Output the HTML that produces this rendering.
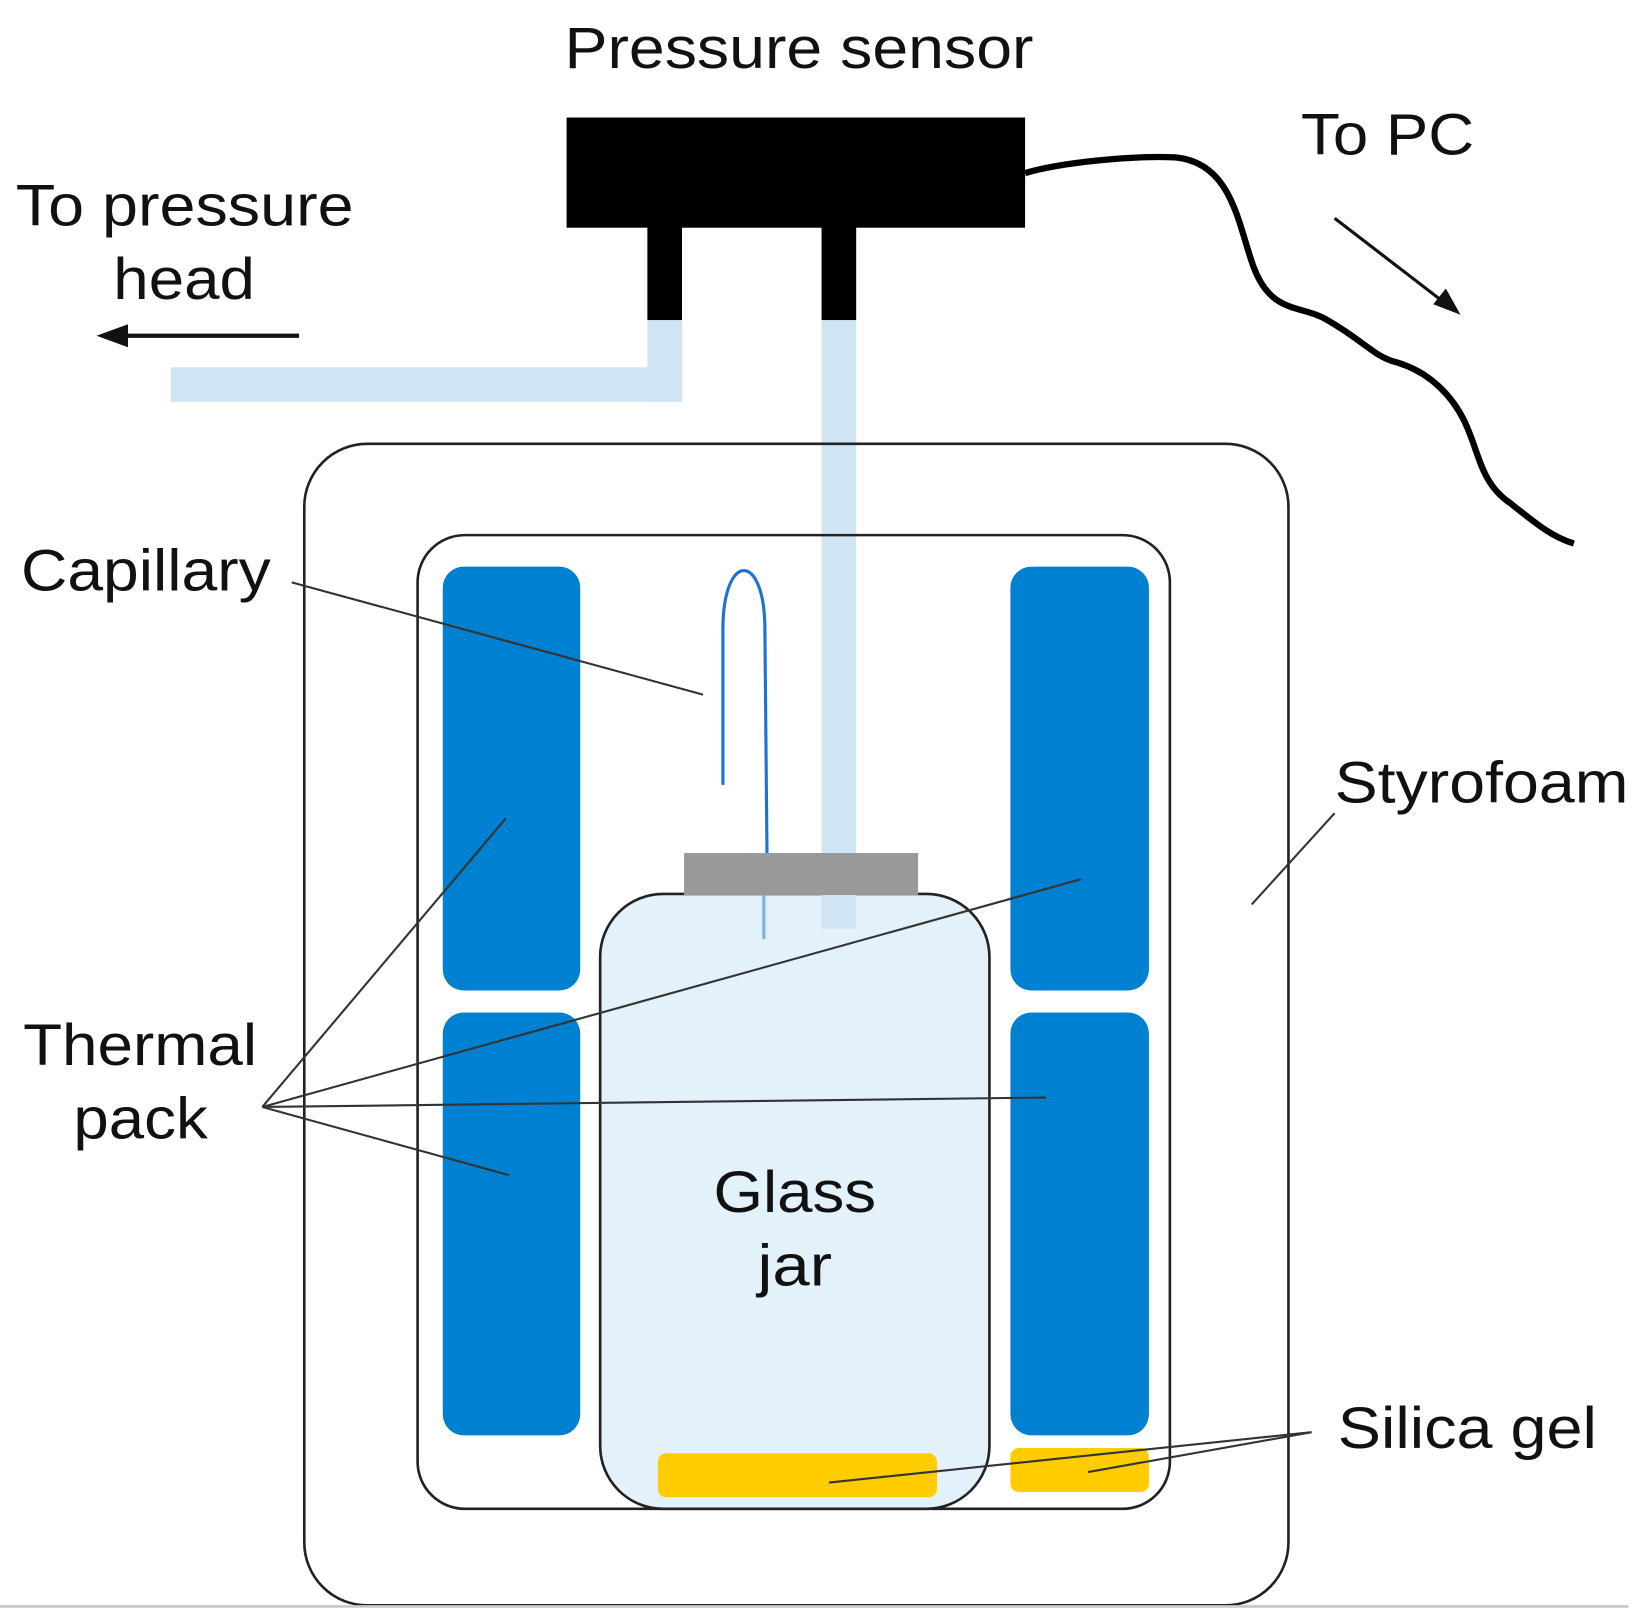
<!DOCTYPE html>
<html><head><style>html,body{margin:0;padding:0;background:#fff}svg{display:block}</style></head>
<body>
<svg width="1641" height="1619" viewBox="0 0 1564 1543" xmlns="http://www.w3.org/2000/svg" font-family="Liberation Sans, Arial, sans-serif" font-size="56" fill="#111">
<rect width="1564" height="1543" fill="#fff"/>
<text x="538" y="65" textLength="447" lengthAdjust="spacingAndGlyphs">Pressure sensor</text>
<text x="15" y="215" textLength="322" lengthAdjust="spacingAndGlyphs">To pressure</text>
<text x="108" y="285" textLength="135" lengthAdjust="spacingAndGlyphs">head</text>
<text x="1240" y="147" textLength="165" lengthAdjust="spacingAndGlyphs">To PC</text>
<rect x="163" y="350" width="487" height="33" fill="#cfe5f3"/>
<rect x="617" y="300" width="33" height="83" fill="#cfe5f3"/>
<rect x="783" y="300" width="33" height="585" fill="#cfe5f3"/>
<rect x="540" y="112" width="437" height="105" fill="#000"/>
<rect x="617" y="215" width="33" height="90" fill="#000"/>
<rect x="783" y="215" width="33" height="90" fill="#000"/>
<line x1="285" y1="320" x2="108" y2="320" stroke="#111" stroke-width="4"/>
<polygon points="92,320 122,309 122,331" fill="#111"/>
<line x1="1272" y1="208" x2="1380" y2="291" stroke="#111" stroke-width="3"/>
<polygon points="1392,300 1366,290 1378,275" fill="#111"/>
<path d="M977,165 C1010,155 1080,148 1120,150 C1175,155 1180,215 1195,255 C1212,300 1240,290 1265,305 C1300,325 1310,340 1330,345 C1365,355 1385,380 1395,400 C1410,430 1410,460 1440,480 C1465,500 1480,512 1500,518" fill="none" stroke="#000" stroke-width="6"/>
<rect x="290" y="423" width="938" height="1107" rx="60" fill="none" stroke="#222" stroke-width="2.5"/>
<rect x="398" y="510" width="717" height="928" rx="45" fill="none" stroke="#222" stroke-width="2.5"/>
<rect x="422" y="540" width="131" height="404" rx="20" fill="#0080d0"/>
<rect x="422" y="965" width="131" height="403" rx="20" fill="#0080d0"/>
<rect x="963" y="540" width="132" height="404" rx="20" fill="#0080d0"/>
<rect x="963" y="965" width="132" height="403" rx="20" fill="#0080d0"/>
<rect x="963" y="1380" width="132" height="42" rx="8" fill="#ffcc00"/>
<rect x="572" y="852" width="371" height="586" rx="60" fill="#e3f1fa" stroke="#222" stroke-width="2.5"/>
<rect x="783" y="852" width="33" height="33" fill="#cfe5f3"/>
<path d="M728,852 L728,895" stroke="#7ab3e8" stroke-width="3"/>
<rect x="627" y="1385" width="266" height="42" rx="8" fill="#ffcc00"/>
<rect x="652" y="813" width="223" height="40" fill="#999"/>
<path d="M689,748 L689,600 C689,525 729,525 729,600 L731,813" fill="none" stroke="#1e73d2" stroke-width="3"/>
<text x="680" y="1155" textLength="155" lengthAdjust="spacingAndGlyphs">Glass</text>
<text x="722" y="1225" textLength="71" lengthAdjust="spacingAndGlyphs">jar</text>
<text x="20" y="563" textLength="238" lengthAdjust="spacingAndGlyphs">Capillary</text>
<text x="1272" y="765" textLength="280" lengthAdjust="spacingAndGlyphs">Styrofoam</text>
<text x="22" y="1015" textLength="223" lengthAdjust="spacingAndGlyphs">Thermal</text>
<text x="70" y="1085" textLength="128" lengthAdjust="spacingAndGlyphs">pack</text>
<text x="1275" y="1380" textLength="247" lengthAdjust="spacingAndGlyphs">Silica gel</text>
<g stroke="#333" stroke-width="2" fill="none">
<line x1="278" y1="555" x2="670" y2="662"/>
<line x1="1272" y1="775" x2="1193" y2="862"/>
<line x1="250" y1="1055" x2="482" y2="780"/>
<line x1="250" y1="1055" x2="1030" y2="838"/>
<line x1="250" y1="1055" x2="997" y2="1046"/>
<line x1="250" y1="1055" x2="485" y2="1120"/>
<line x1="1250" y1="1365" x2="790" y2="1413"/>
<line x1="1250" y1="1365" x2="1037" y2="1403"/>
</g>
<line x1="0" y1="1531" x2="1552" y2="1531" stroke="#c8c8c8" stroke-width="2.5"/>
</svg>
</body></html>
